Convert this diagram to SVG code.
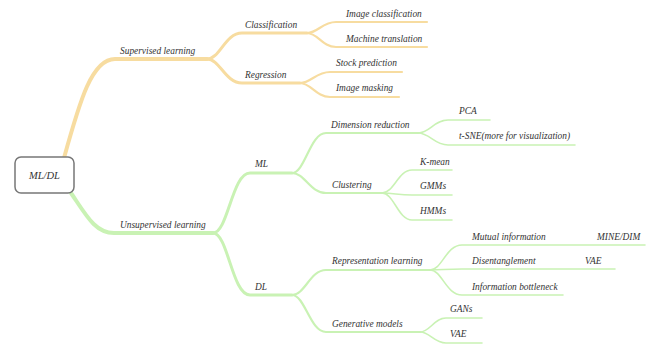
<svg xmlns="http://www.w3.org/2000/svg" width="650" height="347" viewBox="0 0 650 347">
<style>
text{font-family:"Liberation Serif","Times New Roman",serif;font-style:italic;font-size:9.4px;fill:#333}
.e{fill:none;stroke-linecap:round}
.o{stroke:#f7dca0}
.g{stroke:#c9f2b4}
.w1{stroke-width:4}
.w2{stroke-width:3}
.w3{stroke-width:2.2}
.w4{stroke-width:1.6}
</style>
<rect width="650" height="347" fill="#fff"/>
<g id="connectors">
<path class="e o w1" d="M64 158 C80 100 92 59 115 59 L207 59"/>
<path class="e o w2" d="M207 59 C220 59 225 33 242 33 L307 33"/>
<path class="e o w2" d="M207 59 C220 59 225 83 242 83 L300 83"/>
<path class="e o w3" d="M307 33 C318 33 322 22 336 22 L427 22"/>
<path class="e o w3" d="M307 33 C318 33 322 47 336 47 L427 47"/>
<path class="e o w3" d="M300 83 C311 83 316 72 330 72 L402 72"/>
<path class="e o w3" d="M300 83 C311 83 316 97 330 97 L399 97"/>
<path class="e g w1" d="M71 193 C86 215 95 233 114 233 L213 233"/>
<path class="e g w2" d="M213 233 C228 233 232 173 250 173 L292 173"/>
<path class="e g w2" d="M213 233 C228 233 232 295 250 295 L292 295"/>
<path class="e g w3" d="M292 173 C305 173 310 133 326 133 L418 133"/>
<path class="e g w3" d="M292 173 C305 173 310 193 326 193 L382 193"/>
<path class="e g w4" d="M418 133 C430 133 434 120 448 120 L490 120"/>
<path class="e g w4" d="M418 133 C430 133 434 145 448 145 L575 145"/>
<path class="e g w4" d="M382 193 C394 193 398 170 412 170 L452 170"/>
<path class="e g w4" d="M382 193 C394 193 398 195 412 195 L452 195"/>
<path class="e g w4" d="M382 193 C394 193 398 220 412 220 L452 220"/>
<path class="e g w3" d="M292 295 C305 295 310 270 326 270 L430 270"/>
<path class="e g w3" d="M292 295 C305 295 310 332 326 332 L420 332"/>
<path class="e g w4" d="M430 270 C442 270 446 245 462 245 L645 245"/>
<path class="e g w4" d="M430 270 C442 270 446 269 462 269 L615 269"/>
<path class="e g w4" d="M430 270 C442 270 446 295 462 295 L563 295"/>
<path class="e g w4" d="M420 332 C430 332 434 318 446 318 L482 318"/>
<path class="e g w4" d="M420 332 C430 332 434 343 446 343 L482 343"/>
</g>
<g id="root"><rect x="15" y="157" width="59" height="36" rx="6" fill="#fff" stroke="#777" stroke-width="1.5"/><text x="44.5" y="179" text-anchor="middle" style="font-size:10.5px">ML/DL</text></g>
<g id="supervised"><text x="120" y="54">Supervised learning</text></g>
<g id="classification"><text x="245" y="28">Classification</text></g>
<g id="regression"><text x="245" y="78">Regression</text></g>
<g id="image-classification"><text x="346" y="17">Image classification</text></g>
<g id="machine-translation"><text x="346" y="42">Machine translation</text></g>
<g id="stock-prediction"><text x="336" y="66">Stock prediction</text></g>
<g id="image-masking"><text x="336" y="91">Image masking</text></g>
<g id="unsupervised"><text x="120" y="228">Unsupervised learning</text></g>
<g id="ml"><text x="255" y="167">ML</text></g>
<g id="dl"><text x="255" y="290">DL</text></g>
<g id="dimension-reduction"><text x="331" y="128">Dimension reduction</text></g>
<g id="pca"><text x="459" y="114">PCA</text></g>
<g id="tsne"><text x="459" y="139">t-SNE(more for visualization)</text></g>
<g id="clustering"><text x="332" y="188">Clustering</text></g>
<g id="kmean"><text x="420" y="165">K-mean</text></g>
<g id="gmms"><text x="420" y="189">GMMs</text></g>
<g id="hmms"><text x="420" y="214">HMMs</text></g>
<g id="representation-learning"><text x="332" y="264">Representation learning</text></g>
<g id="mutual-information"><text x="472" y="240">Mutual information</text></g>
<g id="mine-dim"><text x="597" y="240">MINE/DIM</text></g>
<g id="disentanglement"><text x="472" y="264">Disentanglement</text></g>
<g id="vae-1"><text x="585" y="264">VAE</text></g>
<g id="information-bottleneck"><text x="472" y="290">Information bottleneck</text></g>
<g id="generative-models"><text x="332" y="327">Generative models</text></g>
<g id="gans"><text x="450" y="312">GANs</text></g>
<g id="vae-2"><text x="450" y="337">VAE</text></g>
</svg>
